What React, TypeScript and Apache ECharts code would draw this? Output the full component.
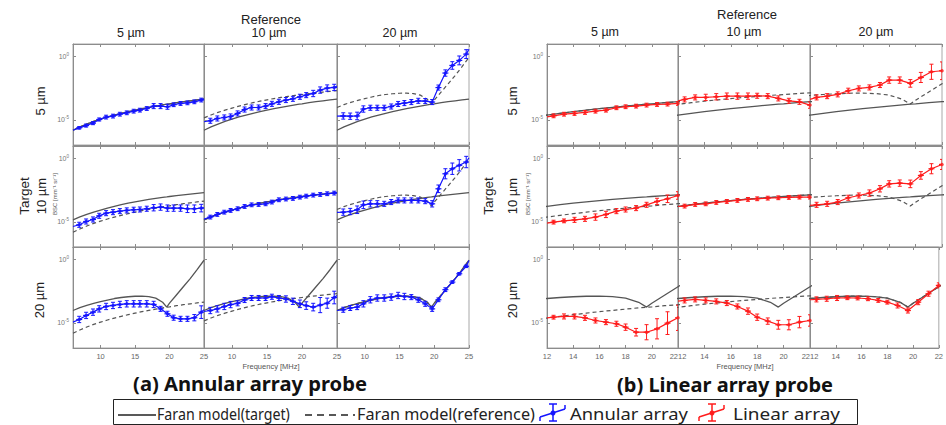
import React, { useEffect, useRef } from "react";
import * as echarts from "echarts";

// ---- Frequencies (MHz) ----
const MODEL_FREQ = [6, 7, 8, 9, 10, 11, 12, 13, 14, 15, 16, 17, 18, 19, 19.6, 20, 21, 22, 23, 24, 25];
const ANNULAR_FREQ = [6.9, 7.9, 8.9, 9.8, 10.8, 11.8, 12.8, 13.8, 14.8, 15.7, 16.7, 17.7, 18.7, 19.7, 20.6, 21.6, 22.6, 23.6, 24.6];
const LINEAR_FREQ = [12.5, 13.3, 14.1, 14.9, 15.7, 16.5, 17.3, 18.0, 18.8, 19.6, 20.4, 21.2, 22.0];

// ---- Faran model curves, log10 BSC [mm^-1 sr^-1] ----
const FARAN_5UM = [-5.83, -5.57, -5.34, -5.13, -4.95, -4.78, -4.63, -4.49, -4.36, -4.24, -4.12, -4.02, -3.92, -3.82, -3.77, -3.74, -3.65, -3.57, -3.5, -3.43, -3.36];
const FARAN_10UM = [-4.85, -4.62, -4.42, -4.24, -4.08, -3.92, -3.78, -3.65, -3.53, -3.42, -3.32, -3.23, -3.15, -3.07, -3.03, -3.0, -2.93, -2.87, -2.81, -2.75, -2.7];
const FARAN_20UM = [-4.03, -3.8, -3.62, -3.47, -3.33, -3.2, -3.08, -3.0, -2.94, -2.9, -2.89, -2.93, -3.05, -3.38, -3.76, -3.45, -2.8, -2.15, -1.5, -0.8, -0.05];

// ---- Annular array measurements, log10 BSC (target T, reference R) ----
const ANN_T5_R5 = [-5.64, -5.46, -5.27, -4.98, -4.79, -4.71, -4.56, -4.45, -4.32, -4.24, -4.11, -3.92, -3.92, -3.97, -3.81, -3.71, -3.66, -3.58, -3.44];
const ANN_T5_R10 = [-5.08, -4.9, -4.82, -4.74, -4.5, -4.19, -4.03, -4.03, -3.92, -3.74, -3.58, -3.44, -3.34, -3.18, -3.05, -2.92, -2.65, -2.49, -2.44];
const ANN_T5_R20 = [-4.7, -4.72, -4.7, -4.15, -4.05, -4.05, -4.05, -3.95, -3.75, -3.68, -3.6, -3.5, -3.52, -3.6, -2.45, -1.3, -0.7, -0.3, 0.2];
const ANN_T10_R5 = [-5.24, -4.98, -4.82, -4.53, -4.32, -4.24, -4.16, -4.1, -4.05, -4.03, -3.97, -3.89, -3.84, -3.92, -3.92, -3.92, -3.97, -3.97, -3.92];
const ANN_T10_R10 = [-4.63, -4.42, -4.24, -4.1, -3.97, -3.79, -3.66, -3.63, -3.58, -3.44, -3.26, -3.2, -3.15, -3.05, -2.97, -2.89, -2.84, -2.78, -2.73];
const ANN_T10_R20 = [-4.24, -4.19, -4.05, -3.66, -3.58, -3.58, -3.58, -3.44, -3.31, -3.31, -3.31, -3.31, -3.37, -3.58, -2.39, -1.2, -0.8, -0.53, -0.27];
const ANN_T20_R5 = [-4.74, -4.42, -4.16, -3.9, -3.71, -3.63, -3.55, -3.5, -3.5, -3.5, -3.5, -3.55, -3.9, -4.29, -4.6, -4.69, -4.69, -4.6, -4.16];
const ANN_T20_R10 = [-4.03, -3.9, -3.71, -3.56, -3.46, -3.2, -3.04, -3.04, -3.04, -2.94, -3.04, -3.12, -3.3, -3.5, -3.64, -3.76, -3.6, -3.45, -3.0];
const ANN_T20_R20 = [-3.97, -3.83, -3.76, -3.5, -3.18, -3.04, -3.04, -2.97, -2.84, -2.92, -2.97, -3.18, -3.5, -3.9, -3.18, -2.38, -1.78, -1.12, -0.53];
// measured curve values where the line meets the panel edges (6 MHz / 25 MHz), rows = target, cols = reference
const ANN_EDGE_6MHZ = [[-5.83, -5.16, -4.71], [-5.38, -4.79, -4.26], [-4.95, -4.11, -4.03]];
const ANN_EDGE_25MHZ = [[-3.37, -2.33, 0.58], [-3.89, -2.7, 0.07], [-3.97, -2.84, -0.06]];

// error-bar half widths (decades)
const ANN_T5_R5_ERR = [0.1, 0.12, 0.12, 0.12, 0.15, 0.15, 0.15, 0.15, 0.15, 0.15, 0.15, 0.2, 0.2, 0.2, 0.15, 0.15, 0.15, 0.15, 0.15];
const ANN_T5_R10_ERR = [0.2, 0.2, 0.2, 0.2, 0.2, 0.2, 0.2, 0.2, 0.2, 0.2, 0.2, 0.2, 0.2, 0.2, 0.2, 0.25, 0.25, 0.25, 0.25];
const ANN_T5_R20_ERR = [0.25, 0.25, 0.3, 0.25, 0.2, 0.2, 0.2, 0.2, 0.2, 0.2, 0.2, 0.2, 0.2, 0.2, 0.2, 0.25, 0.3, 0.35, 0.35];
const ANN_T10_R5_ERR = [0.2, 0.2, 0.2, 0.2, 0.2, 0.2, 0.2, 0.2, 0.2, 0.2, 0.2, 0.25, 0.25, 0.25, 0.25, 0.25, 0.3, 0.3, 0.3];
const ANN_T10_R10_ERR = [0.15, 0.15, 0.15, 0.15, 0.15, 0.15, 0.15, 0.15, 0.15, 0.15, 0.15, 0.15, 0.15, 0.15, 0.15, 0.15, 0.15, 0.15, 0.15];
const ANN_T10_R20_ERR = [0.25, 0.25, 0.3, 0.3, 0.25, 0.25, 0.2, 0.2, 0.2, 0.2, 0.2, 0.2, 0.2, 0.25, 0.3, 0.4, 0.45, 0.45, 0.45];
const ANN_T20_R5_ERR = [0.25, 0.25, 0.25, 0.25, 0.25, 0.25, 0.25, 0.25, 0.25, 0.25, 0.25, 0.25, 0.2, 0.2, 0.2, 0.2, 0.2, 0.25, 0.5];
const ANN_T20_R10_ERR = [0.25, 0.25, 0.25, 0.25, 0.2, 0.2, 0.2, 0.2, 0.2, 0.2, 0.2, 0.25, 0.25, 0.3, 0.3, 0.3, 0.6, 0.4, 0.5];
const ANN_T20_R20_ERR = [0.2, 0.2, 0.2, 0.25, 0.25, 0.25, 0.25, 0.25, 0.25, 0.25, 0.2, 0.2, 0.2, 0.2, 0.15, 0.15, 0.1, 0.1, 0.1];

// ---- Linear array measurements, log10 BSC ----
const LIN_T5_R5 = [-4.69, -4.56, -4.5, -4.42, -4.32, -4.24, -4.05, -3.97, -3.92, -3.84, -3.79, -3.76, -3.71];
const LIN_T5_R10 = [-3.39, -3.23, -3.23, -3.18, -3.13, -3.13, -3.13, -3.1, -3.13, -3.31, -3.5, -3.58, -3.84];
const LIN_T5_R20 = [-3.23, -3.13, -2.99, -2.7, -2.52, -2.44, -2.25, -1.86, -1.86, -2.12, -1.65, -1.2, -1.12];
const LIN_T10_R5 = [-5.03, -4.93, -4.85, -4.77, -4.63, -4.42, -4.16, -4.03, -3.92, -3.66, -3.39, -3.18, -2.92];
const LIN_T10_R10 = [-3.76, -3.63, -3.58, -3.47, -3.39, -3.31, -3.23, -3.18, -3.13, -3.1, -3.07, -3.05, -3.05];
const LIN_T10_R20 = [-3.66, -3.58, -3.44, -3.1, -2.92, -2.73, -2.39, -2.0, -1.94, -2.0, -1.33, -0.8, -0.46];
const LIN_T20_R5 = [-4.56, -4.5, -4.5, -4.61, -4.82, -4.95, -5.08, -5.35, -5.75, -5.75, -5.48, -5.03, -4.61];
const LIN_T20_R10 = [-3.23, -3.15, -3.23, -3.31, -3.44, -3.71, -4.08, -4.56, -4.87, -5.16, -5.16, -4.95, -4.82];
const LIN_T20_R20 = [-3.15, -3.1, -3.04, -3.02, -3.04, -3.1, -3.23, -3.37, -3.63, -4.03, -3.37, -2.7, -2.04];
// measured curve values at the left panel edge (12 MHz)
const LIN_EDGE_12MHZ = [[-4.77, -3.5, -3.39], [-5.11, -3.79, -3.71], [-4.61, -3.29, -3.18]];

const LIN_T5_R5_ERR = [0.15, 0.15, 0.15, 0.15, 0.15, 0.15, 0.15, 0.15, 0.15, 0.15, 0.15, 0.15, 0.15];
const LIN_T5_R10_ERR = [0.2, 0.2, 0.25, 0.25, 0.25, 0.25, 0.25, 0.2, 0.2, 0.2, 0.2, 0.2, 0.25];
const LIN_T5_R20_ERR = [0.2, 0.2, 0.2, 0.2, 0.2, 0.2, 0.2, 0.25, 0.25, 0.3, 0.4, 0.6, 0.7];
const LIN_T10_R5_ERR = [0.15, 0.15, 0.2, 0.2, 0.25, 0.25, 0.2, 0.2, 0.2, 0.2, 0.25, 0.3, 0.3];
const LIN_T10_R10_ERR = [0.15, 0.15, 0.15, 0.15, 0.15, 0.15, 0.15, 0.15, 0.15, 0.15, 0.15, 0.15, 0.15];
const LIN_T10_R20_ERR = [0.2, 0.2, 0.2, 0.2, 0.2, 0.25, 0.25, 0.25, 0.25, 0.3, 0.3, 0.4, 0.4];
const LIN_T20_R5_ERR = [0.15, 0.2, 0.2, 0.2, 0.2, 0.2, 0.2, 0.25, 0.3, 0.6, 0.8, 0.9, 1.0];
const LIN_T20_R10_ERR = [0.2, 0.2, 0.2, 0.2, 0.2, 0.2, 0.25, 0.25, 0.25, 0.35, 0.4, 0.45, 0.45];
const LIN_T20_R20_ERR = [0.2, 0.2, 0.2, 0.15, 0.15, 0.15, 0.15, 0.15, 0.2, 0.2, 0.2, 0.2, 0.2];

// ---- Labels ----
const SIZE_LABELS = ["5 µm", "10 µm", "20 µm"];
const ANNULAR_TICKS = [10, 15, 20, 25];
const LINEAR_TICKS = [12, 14, 16, 18, 20, 22];
const Y_TICKS = [0, -5];
const LEGEND_LABELS = ["Faran model(target)", "Faran model(reference)", "Annular array", "Linear array"];
const CAPTIONS = ["(a) Annular array probe", "(b) Linear array probe"];

const ANNULAR_MEAS = [
  [ANN_T5_R5, ANN_T5_R10, ANN_T5_R20],
  [ANN_T10_R5, ANN_T10_R10, ANN_T10_R20],
  [ANN_T20_R5, ANN_T20_R10, ANN_T20_R20],
];
const ANNULAR_ERR = [
  [ANN_T5_R5_ERR, ANN_T5_R10_ERR, ANN_T5_R20_ERR],
  [ANN_T10_R5_ERR, ANN_T10_R10_ERR, ANN_T10_R20_ERR],
  [ANN_T20_R5_ERR, ANN_T20_R10_ERR, ANN_T20_R20_ERR],
];
const LINEAR_MEAS = [
  [LIN_T5_R5, LIN_T5_R10, LIN_T5_R20],
  [LIN_T10_R5, LIN_T10_R10, LIN_T10_R20],
  [LIN_T20_R5, LIN_T20_R10, LIN_T20_R20],
];
const LINEAR_ERR = [
  [LIN_T5_R5_ERR, LIN_T5_R10_ERR, LIN_T5_R20_ERR],
  [LIN_T10_R5_ERR, LIN_T10_R10_ERR, LIN_T10_R20_ERR],
  [LIN_T20_R5_ERR, LIN_T20_R10_ERR, LIN_T20_R20_ERR],
];

const SANS = '"Liberation Sans", Arial, sans-serif';
const UI = '"Noto Sans", "Open Sans", sans-serif';

let measureCtx: CanvasRenderingContext2D | null = null;
function textWidth(text: string, font: string): number {
  if (!measureCtx) measureCtx = document.createElement("canvas").getContext("2d");
  if (!measureCtx) return 100;
  measureCtx.font = font;
  return measureCtx.measureText(text).width;
}

function buildOption() {
  const grids: any[] = [];
  const xAxes: any[] = [];
  const yAxes: any[] = [];
  const series: any[] = [];
  const models = [FARAN_5UM, FARAN_10UM, FARAN_20UM];
  const probes = [
    { lefts: [73, 204, 337], widths: [131, 133, 132], freq: ANNULAR_FREQ, meas: ANNULAR_MEAS, err: ANNULAR_ERR, color: "#1414ff", xmin: 6, xmax: 25, ticks: ANNULAR_TICKS, edgeLo: ANN_EDGE_6MHZ, edgeHi: ANN_EDGE_25MHZ as number[][] | null, shiftEdgeLabels: false },
    { lefts: [547, 678, 810], widths: [131, 132, 132], freq: LINEAR_FREQ, meas: LINEAR_MEAS, err: LINEAR_ERR, color: "#ff1c1c", xmin: 12, xmax: 22, ticks: LINEAR_TICKS, edgeLo: LIN_EDGE_12MHZ, edgeHi: null as number[][] | null, shiftEdgeLabels: true },
  ];
  const tops = [44, 146, 247];
  const H = 101;
  const axisGray = "#8c8c8c";
  let gi = 0;
  probes.forEach((p) => {
    for (let r = 0; r < 3; r++) {
      for (let c = 0; c < 3; c++) {
        grids.push({ left: p.lefts[c], top: tops[r], width: p.widths[c], height: H, show: true, borderColor: "#a8a8a8", borderWidth: 1, backgroundColor: "rgba(0,0,0,0)" });
        const labelOpts: any = { show: r === 2, customValues: p.ticks, fontSize: 7.5, color: "#666", margin: 4, fontFamily: SANS };
        if (p.shiftEdgeLabels) {
          if (c > 0) labelOpts.alignMinLabel = "left";
          if (c < 2) labelOpts.alignMaxLabel = "right";
        }
        xAxes.push({
          gridIndex: gi, type: "value", min: p.xmin, max: p.xmax, position: "bottom",
          axisLine: { show: true, onZero: false, lineStyle: { color: axisGray, width: 1 } },
          axisTick: { show: true, inside: true, length: 3, customValues: p.ticks, lineStyle: { color: axisGray } },
          axisLabel: labelOpts,
          splitLine: { show: false },
        });
        xAxes.push({
          gridIndex: gi, type: "value", min: p.xmin, max: p.xmax, position: "top",
          axisLine: { show: true, onZero: false, lineStyle: { color: axisGray, width: 1 } },
          axisTick: { show: true, inside: true, length: 3, customValues: p.ticks, lineStyle: { color: axisGray } },
          axisLabel: { show: false },
          splitLine: { show: false },
        });
        yAxes.push({
          gridIndex: gi, type: "value", min: -7, max: 1,
          axisLine: { show: true, onZero: false, lineStyle: { color: axisGray, width: 1 } },
          axisTick: { show: true, inside: true, length: 3, customValues: Y_TICKS, lineStyle: { color: axisGray } },
          axisLabel: {
            show: c === 0, customValues: Y_TICKS, margin: 4,
            formatter: (v: number) => `{b|10}{s|${v === 0 ? "0" : "-5"}}`,
            rich: {
              b: { fontSize: 7, color: "#777", fontFamily: SANS, lineHeight: 10 },
              s: { fontSize: 4.5, color: "#777", fontFamily: SANS, lineHeight: 5, verticalAlign: "top" },
            },
          },
          splitLine: { show: false },
        });
        const xi = gi * 2;
        series.push({
          type: "line", xAxisIndex: xi, yAxisIndex: gi, silent: true, showSymbol: false, z: 2,
          data: MODEL_FREQ.map((f, i) => [f, models[r][i]]),
          lineStyle: { color: "#555", width: 1.3 },
        });
        series.push({
          type: "line", xAxisIndex: xi, yAxisIndex: gi, silent: true, showSymbol: false, z: 2,
          data: MODEL_FREQ.map((f, i) => [f, models[c][i]]),
          lineStyle: { color: "#555", width: 1.2, type: [4, 3] },
        });
        const meas = p.meas[r][c];
        const err = p.err[r][c];
        const color = p.color;
        const lineData: any[] = [[p.xmin, p.edgeLo[r][c]], ...p.freq.map((f, i) => [f, meas[i]])];
        if (p.edgeHi) lineData.push([p.xmax, p.edgeHi[r][c]]);
        series.push({
          type: "line", xAxisIndex: xi, yAxisIndex: gi, silent: true, z: 4,
          data: lineData, showSymbol: false,
          lineStyle: { color, width: 1.2 },
        });
        series.push({
          type: "scatter", xAxisIndex: xi, yAxisIndex: gi, silent: true, z: 5,
          data: p.freq.map((f, i) => [f, meas[i]]),
          symbol: "circle", symbolSize: 3.5, itemStyle: { color },
        });
        series.push({
          type: "custom", xAxisIndex: xi, yAxisIndex: gi, silent: true, z: 5, clip: true,
          data: p.freq.map((f, i) => [f, meas[i], err[i]]),
          encode: { x: 0, y: 1 },
          renderItem: (_params: any, api: any) => {
            const x = api.value(0), y = api.value(1), e = api.value(2);
            const t = api.coord([x, y + e]);
            const b = api.coord([x, y - e]);
            const m = api.coord([x, y]);
            const cap = 2;
            const st = { stroke: color, lineWidth: 1 };
            return {
              type: "group",
              children: [
                { type: "line", shape: { x1: t[0], y1: t[1], x2: b[0], y2: b[1] }, style: st },
                { type: "line", shape: { x1: t[0] - cap, y1: t[1], x2: t[0] + cap, y2: t[1] }, style: st },
                { type: "line", shape: { x1: b[0] - cap, y1: b[1], x2: b[0] + cap, y2: b[1] }, style: st },
                { type: "line", shape: { x1: m[0] - 3, y1: m[1], x2: m[0] + 3, y2: m[1] }, style: { stroke: color, lineWidth: 1.2 } },
              ],
            };
          },
        });
        gi++;
      }
    }
  });

  const txt = (x: number, y: number, text: string, size: number, extra: any = {}) => {
    const family = extra.fontFamily || SANS;
    const weight = extra.fontWeight || "normal";
    let scaleX = 1;
    if (extra.fitWidth) {
      const w = textWidth(text, `${weight} ${size}px ${family}`);
      if (w > 0) scaleX = extra.fitWidth / w;
    }
    return {
      type: "text", x, y, silent: true, rotation: extra.rotation || 0, scaleX,
      style: { text, fontSize: size, fontFamily: family, fontWeight: weight, fill: extra.fill || "#222", align: extra.align || "center", verticalAlign: "middle" },
    };
  };
  const rot = Math.PI / 2;
  const graphic: any[] = [
    txt(271, 19, "Reference", 13),
    txt(131, 33, SIZE_LABELS[0], 12.5),
    txt(269, 33, SIZE_LABELS[1], 12.5),
    txt(400, 33, SIZE_LABELS[2], 12.5),
    txt(747, 14, "Reference", 13),
    txt(605, 32, SIZE_LABELS[0], 12.5),
    txt(744, 32, SIZE_LABELS[1], 12.5),
    txt(876, 32, SIZE_LABELS[2], 12.5),
    // row labels, annular
    txt(40, 101, SIZE_LABELS[0], 13, { rotation: rot }),
    txt(24, 196, "Target", 13.5, { rotation: rot }),
    txt(41, 196, SIZE_LABELS[1], 13, { rotation: rot }),
    txt(55, 194, "BSC [mm⁻¹ sr⁻¹]", 6, { rotation: rot, fill: "#555" }),
    txt(39, 300, SIZE_LABELS[2], 13, { rotation: rot }),
    // row labels, linear
    txt(512, 101, SIZE_LABELS[0], 13, { rotation: rot }),
    txt(488, 196, "Target", 13.5, { rotation: rot }),
    txt(512, 196, SIZE_LABELS[1], 13, { rotation: rot }),
    txt(528, 194, "BSC [mm⁻¹ sr⁻¹]", 6, { rotation: rot, fill: "#555" }),
    txt(512, 300, SIZE_LABELS[2], 13, { rotation: rot }),
    // x titles
    txt(271, 366, "Frequency [MHz]", 7.5, { fill: "#555" }),
    txt(745, 366, "Frequency [MHz]", 7.5, { fill: "#555" }),
    // captions
    txt(250, 384, CAPTIONS[0], 20, { fontWeight: "bold", fontFamily: UI, fill: "#111", fitWidth: 234 }),
    txt(725, 384, CAPTIONS[1], 20, { fontWeight: "bold", fontFamily: UI, fill: "#111", fitWidth: 216 }),
    // legend box
    { type: "rect", silent: true, shape: { x: 113.5, y: 399.5, width: 744, height: 25 }, style: { fill: "#fff", stroke: "#222", lineWidth: 1 } },
    { type: "line", silent: true, shape: { x1: 118, y1: 415, x2: 156, y2: 415 }, style: { stroke: "#222", lineWidth: 1.4 } },
    txt(157, 413, LEGEND_LABELS[0], 17, { align: "left", fontFamily: UI, fill: "#222", fitWidth: 133 }),
    { type: "line", silent: true, shape: { x1: 305, y1: 415, x2: 355, y2: 415 }, style: { stroke: "#222", lineWidth: 1.4, lineDash: [7, 5] } },
    txt(357, 413, LEGEND_LABELS[1], 17, { align: "left", fontFamily: UI, fill: "#222", fitWidth: 178 }),
    txt(570, 413, LEGEND_LABELS[2], 17, { align: "left", fontFamily: UI, fill: "#222", fitWidth: 118 }),
    txt(733, 413, LEGEND_LABELS[3], 17, { align: "left", fontFamily: UI, fill: "#222", fitWidth: 107 }),
  ];
  const icon = (cx: number, color: string) => [
    { type: "line", silent: true, shape: { x1: cx - 13, y1: 417, x2: cx + 12, y2: 409 }, style: { stroke: color, lineWidth: 1.5 } },
    { type: "line", silent: true, shape: { x1: cx, y1: 404, x2: cx, y2: 421 }, style: { stroke: color, lineWidth: 1.5 } },
    { type: "line", silent: true, shape: { x1: cx - 4, y1: 404, x2: cx + 4, y2: 404 }, style: { stroke: color, lineWidth: 1.5 } },
    { type: "line", silent: true, shape: { x1: cx - 4, y1: 421, x2: cx + 4, y2: 421 }, style: { stroke: color, lineWidth: 1.5 } },
    { type: "line", silent: true, shape: { x1: cx - 13, y1: 417, x2: cx - 13, y2: 421 }, style: { stroke: color, lineWidth: 1.5 } },
    { type: "line", silent: true, shape: { x1: cx + 12, y1: 405, x2: cx + 12, y2: 409 }, style: { stroke: color, lineWidth: 1.5 } },
    { type: "circle", silent: true, shape: { cx, cy: 413, r: 2.5 }, style: { fill: color } },
  ];
  graphic.push(...icon(553, "#1414ff"), ...icon(712, "#ff1c1c"));

  return {
    animation: false,
    backgroundColor: "#ffffff",
    grid: grids,
    xAxis: xAxes,
    yAxis: yAxes,
    series,
    graphic,
  };
}

export default function App() {
  const ref = useRef<HTMLDivElement>(null);
  useEffect(() => {
    document.body.style.margin = "0";
    if (!ref.current) return;
    const chart = echarts.init(ref.current, null, { renderer: "svg" });
    chart.setOption(buildOption() as any);
    return () => chart.dispose();
  }, []);
  return <div ref={ref} style={{ width: 946, height: 425 }} />;
}
